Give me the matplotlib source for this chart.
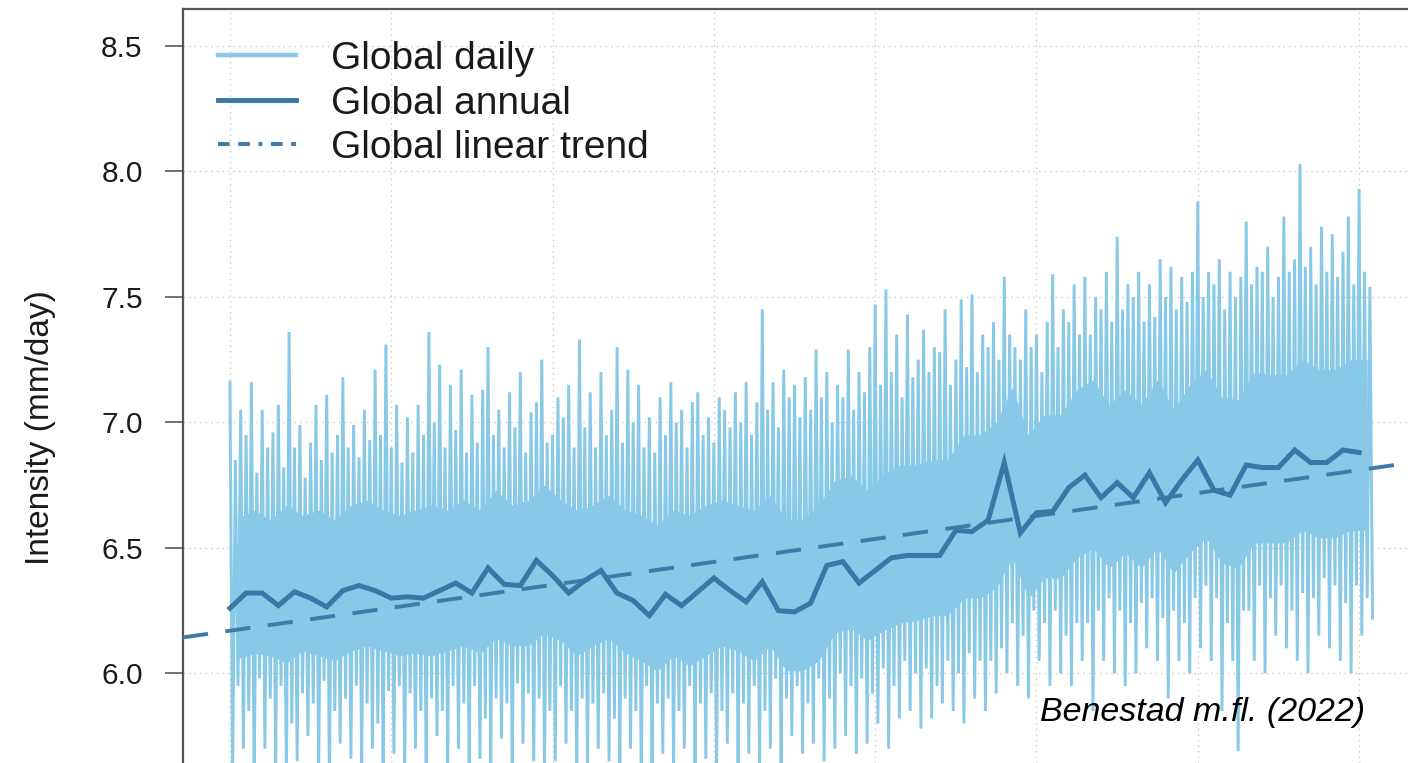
import numpy as np
import matplotlib.pyplot as plt
from matplotlib.lines import Line2D

plt.rcParams['font.family'] = ['Liberation Sans', 'DejaVu Sans']

# Annual mean intensity (mm/day), 1950-2020
YEARS = list(range(1950, 2021))
ANNUAL = [6.26, 6.32, 6.32, 6.27, 6.325, 6.30, 6.265, 6.33, 6.35, 6.33,
          6.30, 6.305, 6.30, 6.33, 6.36, 6.32, 6.42, 6.355, 6.35, 6.45,
          6.39, 6.32, 6.37, 6.41, 6.32, 6.29, 6.23, 6.315, 6.27, 6.325,
          6.38, 6.33, 6.285, 6.365, 6.25, 6.245, 6.28, 6.43, 6.445, 6.36,
          6.41, 6.46, 6.47, 6.47, 6.47, 6.57, 6.565, 6.61, 6.84, 6.56,
          6.64, 6.645, 6.74, 6.79, 6.70, 6.76, 6.70, 6.80, 6.68, 6.77,
          6.85, 6.73, 6.71, 6.83, 6.82, 6.82, 6.89, 6.84, 6.84, 6.89, 6.88]

# Linear trend read at two years
TREND_YEARS = [1950, 2020]
TREND_VALS = [6.17, 6.81]

# Daily series, approximated: 3 upward and 3 downward spikes per year
DAILY_HI = [7.16, 6.85, 7.05, 6.95, 7.16, 6.80, 7.05, 6.90, 6.96, 7.07, 6.82, 7.36, 6.90, 6.99, 6.78,
            6.92, 7.07, 6.85, 7.11, 6.88, 6.95, 7.18, 6.90, 6.99, 6.86, 7.05, 6.93, 7.21, 6.95, 7.31,
            6.90, 7.07, 6.84, 7.02, 6.88, 7.07, 6.95, 7.36, 7.00, 7.23, 6.90, 7.15, 6.97, 7.21, 6.88,
            7.11, 6.92, 7.13, 7.30, 6.95, 7.05, 6.90, 7.12, 6.98, 7.20, 6.88, 7.04, 7.08, 7.25, 6.92,
            6.95, 7.10, 7.02, 7.15, 6.90, 7.33, 6.98, 7.12, 6.90, 7.20, 6.95, 7.05, 7.30, 6.92, 7.21,
            7.00, 7.15, 6.90, 7.02, 6.88, 7.10, 6.95, 7.16, 7.00, 7.05, 6.90, 7.08, 7.12, 6.95, 7.02,
            6.92, 7.10, 7.05, 6.98, 7.12, 7.00, 7.16, 6.95, 7.08, 7.45, 7.05, 7.16, 6.98, 7.21, 7.10,
            7.15, 7.02, 7.18, 7.05, 7.29, 7.10, 7.20, 7.00, 7.15, 7.10, 7.29, 7.05, 7.20, 7.12, 7.30,
            7.47, 7.15, 7.53, 7.20, 7.35, 7.10, 7.43, 7.18, 7.25, 7.37, 7.20, 7.30, 7.28, 7.45, 7.15,
            7.25, 7.49, 7.22, 7.51, 7.20, 7.35, 7.30, 7.40, 7.25, 7.58, 7.35, 7.30, 7.25, 7.45, 7.30,
            7.35, 7.20, 7.40, 7.59, 7.30, 7.45, 7.40, 7.55, 7.35, 7.58, 7.35, 7.50, 7.45, 7.60, 7.40,
            7.74, 7.45, 7.55, 7.50, 7.60, 7.40, 7.55, 7.42, 7.65, 7.50, 7.62, 7.45, 7.58, 7.48, 7.60,
            7.88, 7.50, 7.60, 7.55, 7.65, 7.45, 7.60, 7.50, 7.58, 7.80, 7.55, 7.62, 7.60, 7.70, 7.50,
            7.58, 7.82, 7.60, 7.65, 8.03, 7.62, 7.70, 7.55, 7.78, 7.60, 7.75, 7.58, 7.68, 7.82, 7.55,
            7.93, 7.60, 7.54]
DAILY_LO = [5.60, 5.95, 5.70, 5.85, 5.55, 5.98, 5.70, 5.90, 5.62, 5.95, 5.58, 5.80, 5.65, 5.92, 5.75,
            5.88, 5.60, 5.97, 5.55, 5.85, 5.72, 5.90, 5.66, 5.95, 5.62, 5.88, 5.70, 5.80, 5.58, 5.93,
            5.68, 5.95, 5.60, 5.92, 5.70, 5.85, 5.58, 5.90, 5.75, 5.85, 5.62, 5.95, 5.70, 5.88, 5.60,
            5.95, 5.66, 5.82, 5.62, 5.90, 5.74, 5.88, 5.58, 5.96, 5.72, 5.92, 5.65, 5.90, 5.60, 5.85,
            5.65, 5.95, 5.72, 5.85, 5.58, 5.90, 5.60, 5.88, 5.70, 5.92, 5.65, 5.82, 5.58, 5.90, 5.70,
            5.85, 5.55, 5.95, 5.62, 5.88, 5.68, 5.90, 5.60, 5.85, 5.70, 5.95, 5.62, 5.88, 5.66, 5.92,
            5.60, 5.85, 5.72, 5.92, 5.62, 5.88, 5.68, 5.95, 5.60, 5.85, 5.70, 5.98, 5.62, 5.90, 5.75,
            5.95, 5.68, 5.88, 5.72, 5.98, 5.65, 5.90, 5.70, 6.00, 5.75, 5.95, 5.68, 5.98, 5.72, 5.92,
            5.80, 6.02, 5.70, 5.95, 5.82, 6.05, 5.85, 6.00, 5.78, 6.02, 5.82, 5.95, 5.88, 6.05, 5.85,
            6.00, 5.80, 6.08, 5.90, 6.05, 5.85, 6.05, 5.92, 6.10, 6.00, 6.20, 5.95, 6.15, 5.90, 6.25,
            6.05, 6.20, 5.95, 6.25, 6.00, 6.15, 5.95, 6.20, 6.05, 6.20, 5.85, 6.25, 6.05, 6.30, 6.00,
            6.25, 5.95, 6.20, 6.00, 6.28, 6.10, 6.30, 6.05, 6.22, 5.90, 6.25, 6.05, 6.20, 6.00, 6.30,
            6.10, 6.35, 6.05, 6.30, 5.85, 6.20, 6.05, 5.69, 6.25, 6.25, 6.05, 6.35, 6.00, 6.30, 6.15,
            6.35, 6.10, 6.25, 6.05, 6.32, 6.00, 6.30, 6.15, 6.38, 6.10, 6.35, 6.05, 6.28, 6.00, 6.35,
            6.15, 6.30, 6.22]

# Dense core of the daily cloud, one lower/upper edge per year
CORE_LO = [6.06, 6.08, 6.07, 6.04, 6.09, 6.07, 6.05, 6.09, 6.11, 6.09,
           6.07, 6.08, 6.07, 6.09, 6.11, 6.08, 6.14, 6.11, 6.11, 6.16,
           6.13, 6.07, 6.11, 6.14, 6.08, 6.05, 6.01, 6.07, 6.03, 6.07,
           6.11, 6.09, 6.05, 6.11, 6.01, 6.01, 6.05, 6.16, 6.18, 6.13,
           6.17, 6.20, 6.21, 6.23, 6.23, 6.30, 6.30, 6.34, 6.46, 6.30,
           6.38, 6.38, 6.46, 6.50, 6.42, 6.48, 6.42, 6.50, 6.40, 6.48,
           6.54, 6.44, 6.42, 6.52, 6.52, 6.52, 6.57, 6.54, 6.54, 6.57, 6.57]
CORE_HI = [6.62, 6.65, 6.61, 6.67, 6.63, 6.65, 6.61, 6.67, 6.69, 6.65,
           6.63, 6.65, 6.67, 6.65, 6.69, 6.65, 6.73, 6.67, 6.69, 6.75,
           6.69, 6.65, 6.67, 6.71, 6.65, 6.63, 6.59, 6.65, 6.63, 6.67,
           6.69, 6.67, 6.65, 6.71, 6.61, 6.61, 6.67, 6.77, 6.79, 6.73,
           6.79, 6.83, 6.83, 6.85, 6.85, 6.95, 6.95, 7.00, 7.14, 6.95,
           7.03, 7.03, 7.13, 7.17, 7.07, 7.13, 7.07, 7.17, 7.05, 7.15,
           7.21, 7.10, 7.09, 7.20, 7.19, 7.19, 7.25, 7.21, 7.21, 7.25, 7.25]

DAILY_COL = '#87c9e6'
ANNUAL_COL = '#3a76a6'
TREND_COL = '#3f7aa8'

# interleave spikes: hi, lo, hi, lo ... six points per year
daily_vals = np.ravel(np.column_stack([DAILY_HI, DAILY_LO]))
daily_t = YEARS[0] + np.arange(len(daily_vals)) / 6.0
core_t = np.array(YEARS) + 0.5

fig = plt.figure(figsize=(14.08, 7.63), dpi=100)
ax = fig.add_axes([183 / 1408, 0.0, 1 - 183 / 1408, 1 - 9 / 763])

ax.fill_between(core_t, CORE_LO, CORE_HI, color=DAILY_COL, lw=0, zorder=2)
ax.plot(daily_t, daily_vals, color=DAILY_COL, lw=2.1, zorder=2, solid_joinstyle='miter')
ax.plot(YEARS, ANNUAL, color=ANNUAL_COL, lw=3.6, zorder=4, solid_joinstyle='miter')
ax.axline((TREND_YEARS[0], TREND_VALS[0]), (TREND_YEARS[1], TREND_VALS[1]),
          color=TREND_COL, lw=2.8, ls=(0, (6.5, 4.5)), zorder=3)

ax.set_xlim(1947.09, 2023.03)
ax.set_ylim(5.643, 8.647)
ax.set_xticks(range(1950, 2021, 10))
ax.set_yticks([6.0, 6.5, 7.0, 7.5, 8.0, 8.5])
ax.set_yticklabels(['6.0', '6.5', '7.0', '7.5', '8.0', '8.5'])
ax.grid(True, color='#c9c9c9', lw=1.0, ls=(0, (1, 3)), zorder=1)
ax.set_axisbelow(True)

ax.tick_params(axis='x', length=0, labelbottom=False)
ax.tick_params(axis='y', length=13, width=1.3, color='#666666', pad=16,
               labelsize=21.5, labelcolor='#1a1a1a')
for s in ['right', 'bottom']:
    ax.spines[s].set_visible(False)
for s in ['left', 'top']:
    ax.spines[s].set_color('#555555')
    ax.spines[s].set_linewidth(1.6)

fig.text(41 / 1408, 1 - 428 / 763, 'Intensity (mm/day)', rotation=90,
         fontsize=24, color='#1a1a1a', ha='center', va='center')

handles = [Line2D([], [], color=DAILY_COL, lw=3.2),
           Line2D([], [], color=ANNUAL_COL, lw=3.5),
           Line2D([], [], color=TREND_COL, lw=2.8, ls=(0, (3, 2.2, 3, 2.2, 1, 2.2)))]
labels = ['Global daily', 'Global annual', 'Global linear trend']
leg = ax.legend(handles, labels, loc='upper left', bbox_to_anchor=(218 / 1408, 1 - 41 / 763),
                bbox_transform=fig.transFigure, frameon=False, fontsize=28,
                borderpad=0, borderaxespad=0, handlelength=2.0,
                handletextpad=0.9, labelspacing=0.22)
for t in leg.get_texts():
    t.set_color('#1a1a1a')

ax.text(1365 / 1408, 1 - 713 / 763, 'Benestad m.fl. (2022)', transform=fig.transFigure,
        fontsize=24.5, style='italic', ha='right', va='center', color='black', zorder=6)

fig.savefig('out.png', dpi=100)
